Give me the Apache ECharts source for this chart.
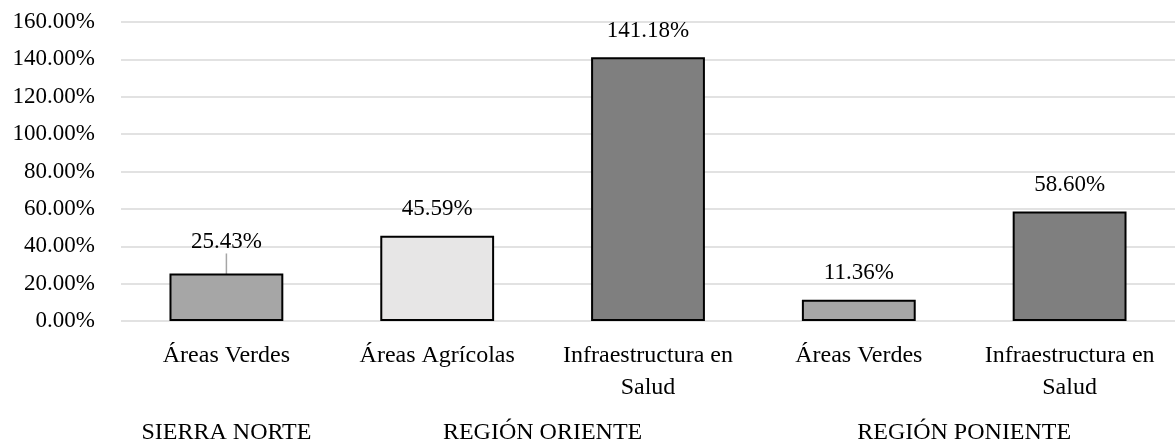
<!DOCTYPE html>
<html>
<head>
<meta charset="utf-8">
<script src="https://cdn.jsdelivr.net/npm/echarts@6/dist/echarts.min.js"></script>
<style>
  html, body { margin: 0; padding: 0; background: #fff; }
  #chart { width: 1175px; height: 448px; }
</style>
</head>
<body>
<div id="chart"></div>
<script>
// categorías (dos niveles) y valores en %
const categories = ["Áreas Verdes", "Áreas Agrícolas", "Infraestructura en\nSalud", "Áreas Verdes", "Infraestructura en\nSalud"];
const values = [25.43, 45.59, 141.18, 11.36, 58.60];
const barColors = ["#a6a6a6", "#e7e6e6", "#7f7f7f", "#a6a6a6", "#7f7f7f"];
const groups = ["SIERRA NORTE", "REGIÓN ORIENTE", "REGIÓN PONIENTE"];
const groupSpans = [1, 2, 2];
const yTicks = [0, 20, 40, 60, 80, 100, 120, 140, 160];

// centro de cada grupo en unidades de categoría
const groupCenters = [];
let acc = 0;
groupSpans.forEach((s) => {
  groupCenters.push(acc + s / 2);
  acc += s;
});

const font = "'Liberation Serif', 'DejaVu Serif', serif";
const chart = echarts.init(document.getElementById("chart"));

const option = {
  animation: false,
  grid: { left: 121, right: -8, top: 22, bottom: 127 },
  xAxis: [
    {
      type: "category",
      data: categories,
      axisLine: { show: false },
      axisTick: { show: false },
      axisLabel: {
        interval: 0,
        margin: 19,
        fontFamily: font,
        fontSize: 24,
        lineHeight: 32,
        color: "#000",
      },
    },
    {
      type: "value",
      min: 0,
      max: categories.length,
      position: "bottom",
      axisLine: { show: false },
      axisTick: { show: false },
      splitLine: { show: false },
      axisLabel: {
        customValues: groupCenters,
        margin: 100,
        fontFamily: font,
        fontSize: 24,
        color: "#000",
        formatter: (v) => groups[groupCenters.indexOf(v)] || "",
      },
    },
  ],
  yAxis: {
    type: "value",
    min: yTicks[0],
    max: yTicks[yTicks.length - 1],
    interval: 20,
    axisLine: { show: false },
    axisTick: { show: false },
    splitLine: { lineStyle: { color: "#d9d9d9", width: 1.5 } },
    axisLabel: {
      margin: 26,
      fontFamily: font,
      fontSize: 23,
      color: "#000",
      formatter: (v) => v.toFixed(2) + "%",
    },
  },
  series: [
    {
      type: "bar",
      xAxisIndex: 0,
      barWidth: "54%",
      data: values.map((v, i) => ({
        value: v,
        itemStyle: { color: barColors[i] },
        // solo la primera etiqueta lleva línea guía
        labelLine: { show: i === 0 },
      })),
      itemStyle: { borderColor: "#000", borderWidth: 2 },
      label: {
        show: true,
        position: "top",
        distance: 15,
        fontFamily: font,
        fontSize: 23,
        color: "#000",
        formatter: (p) => p.value.toFixed(2) + "%",
      },
      labelLine: { lineStyle: { color: "#a6a6a6", width: 1.5 } },
      labelLayout: (p) => (p.dataIndex === 0 ? { dy: -5 } : {}),
    },
  ],
};

chart.setOption(option);
window.addEventListener("resize", () => chart.resize());
</script>
</body>
</html>
